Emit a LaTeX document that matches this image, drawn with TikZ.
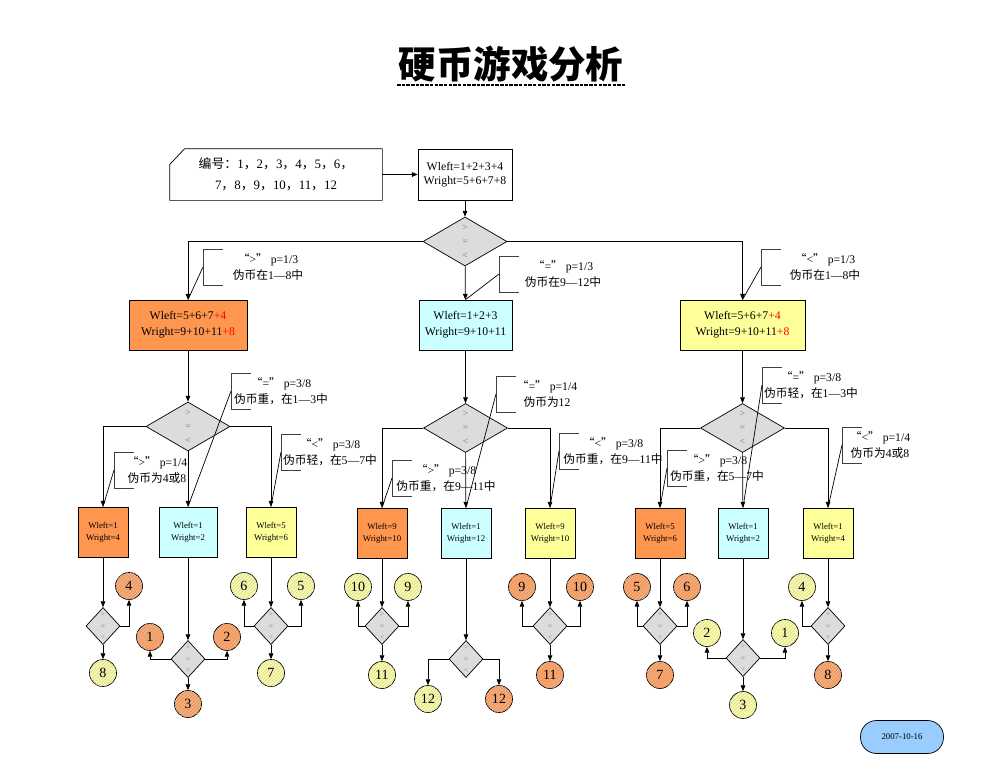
\documentclass[tikz,border=0pt]{standalone}
\usepackage{fontspec}
\setmainfont{Liberation Serif}
\newfontfamily\zhfont{Noto Sans CJK SC}
\newcommand{\zh}[1]{{\zhfont #1}}
\newcommand{\zc}{\zh{，}}
\usetikzlibrary{arrows.meta,positioning,shapes.geometric,calc,patterns}
\definecolor{coinorange}{RGB}{255,150,80}
\definecolor{coincyan}{RGB}{204,255,255}
\definecolor{coinyellow}{RGB}{255,255,153}
\definecolor{scalegray}{RGB}{222,219,222}
\definecolor{dateblue}{RGB}{153,204,255}

\begin{document}
\begin{tikzpicture}[x=0.3mm,y=-0.3mm,line width=0.6pt,>={Triangle[length=5pt,width=4pt]},
  wbox/.style={draw,align=center,minimum height=50*0.3mm,inner sep=1pt,font=\fontsize{10}{13.5}\selectfont},
  wsmall/.style={draw,align=center,minimum width=50*0.3mm,minimum height=50*0.3mm,inner sep=1pt,font=\fontsize{7.5}{10}\selectfont},
  balance/.style={diamond,draw,fill=scalegray,minimum width=84*0.3mm,minimum height=49*0.3mm,inner sep=0pt,
    label={[text=black!55,align=center,font=\fontsize{8}{12}\selectfont]center:>\\=\\<}},
  minibal/.style={diamond,draw,fill=scalegray,minimum width=34*0.3mm,minimum height=37*0.3mm,inner sep=0pt,
    label={[text=black!55,align=center,font=\fontsize{6}{10}\selectfont]center:>\\=\\<}},
  coin/.style={circle,draw,minimum size=27*0.3mm,inner sep=0pt,font=\fontsize{12}{12}\selectfont},
  heavy/.style={coin,fill=coinorange,postaction={pattern=north east lines,pattern color=black!20}},
  light/.style={coin,fill=coinyellow,postaction={pattern=north east lines,pattern color=black!20}},
  note/.style={align=center,font=\fontsize{10}{13.5}\selectfont,inner sep=0pt},
  bracket/.style={draw=black!75}]
  \useasboundingbox (0,0) rectangle (1003,774);

  % title
  \node[font=\fontsize{32}{32}\selectfont\zhfont\bfseries,inner xsep=1pt,inner ysep=2pt] (title) at (511,64) {硬币游戏分析};
  \draw[line width=1.3pt,dash pattern=on 3pt off 1pt] (title.south west) -- (title.south east);

  % input and first weighing
  \node[minimum width=212*0.3mm,minimum height=51*0.3mm,align=center,font=\fontsize{11}{18}\selectfont] (card) at (276,174.5)
    {\zh{编号：}1\zc 2\zc 3\zc 4\zc 5\zc 6\zc\\7\zc 8\zc 9\zc 10\zc 11\zc 12};
  \draw ($(card.north west)+(15,0)$) -- (card.north east) -- (card.south east) -- (card.south west) -- ($(card.north west)+(0,16)$) -- cycle;
  \node[wbox,minimum width=94*0.3mm,minimum height=51*0.3mm,font=\fontsize{10}{12}\selectfont] (wtop) at (465,174.5) {Wleft=1+2+3+4\\Wright=5+6+7+8};
  \node[balance] (sc0) at (465,241.5) {};

  % second weighing
  \node[wbox,fill=coinorange,minimum width=118*0.3mm] (wL) at (188,325) {Wleft=5+6+7\textcolor{red}{+4}\\Wright=9+10+11\textcolor{red}{+8}};
  \node[wbox,fill=coincyan,minimum width=93*0.3mm] (wM) at (465.5,325) {Wleft=1+2+3\\Wright=9+10+11};
  \node[wbox,fill=coinyellow,minimum width=125*0.3mm] (wR) at (742.5,325) {Wleft=5+6+7\textcolor{red}{+4}\\Wright=9+10+11\textcolor{red}{+8}};
  \node[balance] (scL) at (188,426.5) {};
  \node[balance] (scM) at (465.5,428) {};
  \node[balance] (scR) at (742.5,428) {};

  % third weighing
  \node[wsmall,fill=coinorange] (wLL) at (103,532) {Wleft=1\\Wright=4};
  \node[wsmall,fill=coincyan,minimum width=58*0.3mm] (wLM) at (188,532) {Wleft=1\\Wright=2};
  \node[wsmall,fill=coinyellow] (wLR) at (271,532) {Wleft=5\\Wright=6};
  \node[wsmall,fill=coinorange] (wML) at (382,533) {Wleft=9\\Wright=10};
  \node[wsmall,fill=coincyan] (wMM) at (466,533) {Wleft=1\\Wright=12};
  \node[wsmall,fill=coinyellow] (wMR) at (550,533) {Wleft=9\\Wright=10};
  \node[wsmall,fill=coinorange] (wRL) at (660,533) {Wleft=5\\Wright=6};
  \node[wsmall,fill=coincyan] (wRM) at (743,533) {Wleft=1\\Wright=2};
  \node[wsmall,fill=coinyellow] (wRR) at (828,533) {Wleft=1\\Wright=4};

  \foreach \nm/\x/\y in {sLL/103/626,sLM/188/659,sLR/271/626,sML/382/626,sMM/466/659,sMR/550/626,sRL/660/626,sRM/743/658,sRR/828/626}
    \node[minibal] (\nm) at (\x,\y) {};

  % result coins
  \foreach \nm/\x/\y/\st/\n in {cLL4/129/586/heavy/4,cLL8/103/673/light/8,
      cLM1/150/637/heavy/1,cLM2/227/637/heavy/2,cLM3/188/704/heavy/3,
      cLR6/244/586/light/6,cLR5/301/586/light/5,cLR7/271/673/light/7,
      cML10/358/587/light/10,cML9/408/587/light/9,cML11/382/675/light/11,
      cMMa/428/699/light/12,cMMb/499/699/heavy/12,
      cMR9/522/587/heavy/9,cMR10/580/587/heavy/10,cMR11/550/675/heavy/11,
      cRL5/637/587/heavy/5,cRL6/687/587/heavy/6,cRL7/660/675/heavy/7,
      cRM2/707/633/light/2,cRM1/785/633/light/1,cRM3/743/705/light/3,
      cRR4/802/587/light/4,cRR8/828/675/heavy/8}
    \node[\st] (\nm) at (\x,\y) {\n};

  % connectors
  \draw[->] (card) -- (wtop);
  \foreach \a/\b in {wtop/sc0,sc0/wM,wL/scL,wM/scM,wR/scR,scL/wLM,scM/wMM,scR/wRM,
      wLL/sLL,wLM/sLM,wLR/sLR,wML/sML,wMM/sMM,wMR/sMR,wRL/sRL,wRM/sRM,wRR/sRR,
      sLL/cLL8,sLM/cLM3,sLR/cLR7,sML/cML11,sMR/cMR11,sRL/cRL7,sRM/cRM3,sRR/cRR8}
    \draw[->] (\a) -- (\b);
  \foreach \a/\b in {sc0.west/wL,sc0.east/wR,scL.west/wLL,scL.east/wLR,scM.west/wML,scM.east/wMR,
      scR.west/wRL,scR.east/wRR,sMM.west/cMMa,sMM.east/cMMb}
    \draw[->] (\a) -| (\b.north);
  \foreach \a/\b in {sLL.east/cLL4,sLM.west/cLM1,sLM.east/cLM2,sLR.west/cLR6,sLR.east/cLR5,
      sML.west/cML10,sML.east/cML9,sMR.west/cMR9,sMR.east/cMR10,sRL.west/cRL5,sRL.east/cRL6,
      sRM.west/cRM2,sRM.east/cRM1,sRR.west/cRR4}
    \draw[->] (\a) -| (\b.south);

  % annotations
  \foreach \nm/\bx/\by/\tx/\tgt/\txt in {
      nL/203/267/268/wL/{\zh{“}>\zh{”} p=1/3\\\zh{伪币在}1—8\zh{中}},
      nM/499/274/563/wM/{\zh{“}=\zh{”} p=1/3\\\zh{伪币在}9—12\zh{中}},
      nR/761/267/825/wR/{\zh{“}<\zh{”} p=1/3\\\zh{伪币在}1—8\zh{中}},
      nLe/231/391/281/wLM/{\zh{“}=\zh{”} p=3/8\\\zh{伪币重，在}1—3\zh{中}},
      nLg/114/470/157/wLL/{\zh{“}>\zh{”} p=1/4\\\zh{伪币为}4\zh{或}8},
      nLl/281/452/330/wLR/{\zh{“}<\zh{”} p=3/8\\\zh{伪币轻，在}5—7\zh{中}},
      nMe/496/394/547/wMM/{\zh{“}=\zh{”} p=1/4\\\zh{伪币为}12},
      nMg/392/478/446/wML/{\zh{“}>\zh{”} p=3/8\\\zh{伪币重，在}9—11\zh{中}},
      nMl/559/451/613/wMR/{\zh{“}<\zh{”} p=3/8\\\zh{伪币重，在}9—11\zh{中}},
      nRe/762/385/811/wRM/{\zh{“}=\zh{”} p=3/8\\\zh{伪币轻，在}1—3\zh{中}},
      nRg/667/468/717/wRL/{\zh{“}>\zh{”} p=3/8\\\zh{伪币重，在}5—7\zh{中}},
      nRl/842/445/880/wRR/{\zh{“}<\zh{”} p=1/4\\\zh{伪币为}4\zh{或}8}}{
    \coordinate (\nm) at (\bx,\by);
    \draw[bracket] (\bx+20,\by-18) -- (\bx,\by-18) -- (\bx,\by+18) -- (\bx+20,\by+18);
    \node[note] (\nm-t) at (\tx,\by) {\txt};
    \draw (\nm) -- (\tgt.north);
  }

  % date
  \node[draw,fill=dateblue,rounded corners=4.8mm,minimum width=83*0.3mm,minimum height=33*0.3mm,font=\fontsize{7.5}{8}\selectfont] (date) at (902,737) {2007-10-16};
\end{tikzpicture}
\end{document}
